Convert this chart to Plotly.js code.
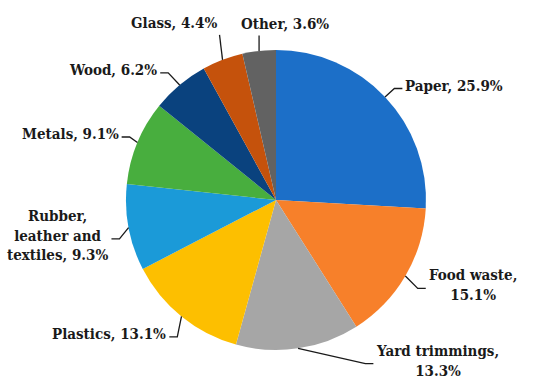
<!DOCTYPE html>
<html>
<head>
<meta charset="utf-8">
<script src="https://cdn.plot.ly/plotly-3.0.1.min.js"></script>
<style>html,body{margin:0;padding:0;background:#fff;}#chart{width:538px;height:381px;}</style>
</head>
<body>
<div id="chart"></div>
<script>
// ---- data ----
const categories = ["Paper", "Food waste", "Yard trimmings", "Plastics", "Rubber, leather and textiles", "Metals", "Wood", "Glass", "Other"];
const shares = [25.9, 15.1, 13.3, 13.1, 9.3, 9.1, 6.2, 4.4, 3.6];
const displayNames = ["Paper", "Food waste", "Yard trimmings", "Plastics", "Rubber,<br>leather and<br>textiles", "Metals", "Wood", "Glass", "Other"];
const valueOnNewLine = [false, true, true, false, false, false, false, false, false];
const colors = ["#1c6fc8", "#f7802a", "#a6a6a6", "#fdbf00", "#1b9ad8", "#48ae3e", "#0a427e", "#c5520c", "#626262"];

// ---- layout config (positions/styles) ----
const W = 538, H = 381, cx = 276, cy = 200, R = 150, labelR = 1.15;
const labelNudge = {
  "Paper": [3, 4], "Food waste": [3, -2], "Yard trimmings": [74, -10], "Plastics": [0, 0],
  "Rubber, leather and textiles": [3, 4], "Metals": [3, 0], "Wood": [-7, 2],
  "Glass": [3, -6], "Other": [-16.5, 5]
};
const topAnchor = { "Glass": "right", "Other": "left" };
const FONT = { family: "DejaVu Serif Condensed", size: 15, color: "#1a1a1a", weight: "bold" };

const px = x => x / W, py = y => 1 - y / H;
const total = shares.reduce((a, b) => a + b, 0);
const annotations = [], shapes = [];
let cum = 0;
shares.forEach((v, i) => {
  const mid = (cum + v / 2) / total * 2 * Math.PI; cum += v;
  const s = Math.sin(mid), c = Math.cos(mid);
  const E = [cx + R * s, cy - R * c];
  const nud = labelNudge[categories[i]] || [0, 0];
  const T = [cx + labelR * R * s + nud[0], cy - labelR * R * c + nud[1]];
  const text = displayNames[i] + "," + (valueOnNewLine[i] ? "<br>" : " ") + shares[i].toFixed(1) + "%";
  let xanchor, yanchor, path;
  if (topAnchor[categories[i]]) {
    xanchor = topAnchor[categories[i]]; yanchor = "bottom";
    const Px = xanchor === "right" ? Math.min(E[0], T[0] + 2) : Math.max(E[0], T[0]);
    const P = [Px, T[1] + 2];
    path = `M${px(E[0])},${py(E[1])} L${px(P[0])},${py(P[1])}`;
  } else {
    const side = s >= 0 ? 1 : -1;
    xanchor = side > 0 ? "left" : "right"; yanchor = "middle";
    const P = [T[0] - side * 2, T[1] + 3];
    const K = [P[0] - side * 8, P[1]];
    path = `M${px(E[0])},${py(E[1])} L${px(K[0])},${py(K[1])} L${px(P[0])},${py(P[1])}`;
  }
  annotations.push({ x: px(T[0]), y: py(T[1]), xref: "paper", yref: "paper", text: text,
    showarrow: false, xanchor: xanchor, yanchor: yanchor, align: "center", font: FONT, borderpad: 0 });
  shapes.push({ type: "path", xref: "paper", yref: "paper", path: path, line: { color: "#1a1a1a", width: 1.3 } });
});

const trace = {
  type: "pie", labels: categories, values: shares, sort: false, direction: "clockwise", rotation: 0,
  marker: { colors: colors, line: { width: 0 } }, textinfo: "none", hoverinfo: "label+percent",
  domain: { x: [(cx - R) / W, (cx + R) / W], y: [1 - (cy + R) / H, 1 - (cy - R) / H] }
};
Plotly.newPlot("chart", [trace], {
  width: W, height: H, margin: { l: 0, r: 0, t: 0, b: 0 }, showlegend: false,
  paper_bgcolor: "#fff", annotations: annotations, shapes: shapes
}, { displayModeBar: false, staticPlot: true });
</script>
</body>
</html>
